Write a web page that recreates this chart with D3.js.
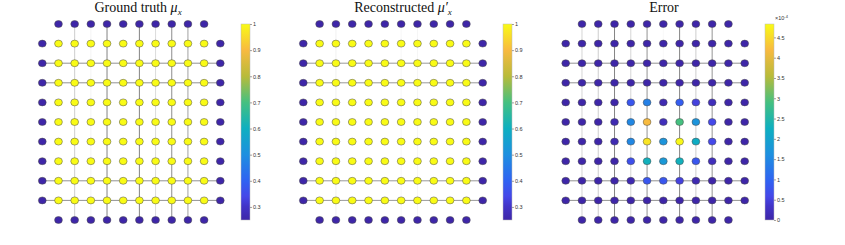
<html>
<head>
<script src="https://d3js.org/d3.v7.min.js"></script>
<style>
body { margin: 0; background: #fff; }
svg { display: block; }
</style>
</head>
<body>
<svg width="845" height="245"></svg>
<script>
// node values, 11 rows x 12 columns, corners have no node (null)
var B = 0.25;
var truthMu = [
  [null,B,B,B,B,B,B,B,B,B,B,null],
  [B,1,1,1,1,1,1,1,1,1,1,B],
  [B,1,1,1,1,1,1,1,1,1,1,B],
  [B,1,1,1,1,1,1,1,1,1,1,B],
  [B,1,1,1,1,1,1,1,1,1,1,B],
  [B,1,1,1,1,1,1,1,1,1,1,B],
  [B,1,1,1,1,1,1,1,1,1,1,B],
  [B,1,1,1,1,1,1,1,1,1,1,B],
  [B,1,1,1,1,1,1,1,1,1,1,B],
  [B,1,1,1,1,1,1,1,1,1,1,B],
  [null,B,B,B,B,B,B,B,B,B,B,null]
];
var reconMu = [
  [null,B,B,B,B,B,B,B,B,B,B,null],
  [B,1,1,1,1,1,1,1,1,1,1,B],
  [B,1,1,1,1,1,1,1,1,1,1,B],
  [B,1,1,1,1,1,1,1,1,1,1,B],
  [B,1,1,1,1,1,1,1,1,1,1,B],
  [B,1,1,1,1,1,1,1,1,1,1,B],
  [B,1,1,1,1,1,1,1,1,1,1,B],
  [B,1,1,1,1,1,1,1,1,1,1,B],
  [B,1,1,1,1,1,1,1,1,1,1,B],
  [B,1,1,1,1,1,1,1,1,1,1,B],
  [null,B,B,B,B,B,B,B,B,B,B,null]
];
// error in units of 1e-4
var errMu = [
  [null,0,0,0,0,0,0,0,0,0,0,null],
  [0,0,0,0,0,0,0,0,0,0,0,0],
  [0,0,0,0,0,0,0,0,0,0,0,0],
  [0,0,0,0,0,0,0,0,0,0,0,0],
  [0,0,0,0,0.8,1.4,0.1,0.9,0.5,0.2,0,0],
  [0,0,0,0.1,1.5,4.2,0.2,2.9,1.7,0.6,0,0],
  [0,0,0,0.1,1.5,4.6,1.7,4.8,2.2,0.6,0,0],
  [0,0,0,0,0.7,2.3,1.8,2.3,0.8,0.2,0,0],
  [0,0,0,0,0.1,0.8,0.8,0.5,0.1,0,0,0],
  [0,0,0,0,0,0,0,0,0,0,0,0],
  [null,0,0,0,0,0,0,0,0,0,0,null]
];

// edge weights (drawn in gray): horizontal rows, vertical columns
var truthRows = [[2,0.75],[3,0.75],[8,0.75],[9,0.75]];
var truthCols = [[2,0.35],[3,0.08],[4,0.85],[6,0.85],[7,0.25],[8,0.8],[9,0.65]];
var reconRows = [[2,0.7],[3,0.7],[8,0.7],[9,0.7]];
var reconCols = [[2,0.09],[6,0.06],[7,0.06]];
var errRows = [[2,0.75],[3,0.75],[8,0.75],[9,0.75]];
var errCols = [[1,0.3],[2,0.35],[3,0.85],[4,0.3],[5,0.75],[6,0.05],[7,0.85],[8,0.35],[9,0.75]];

var muTicks = [0.3,0.4,0.5,0.6,0.7,0.8,0.9,1];
var errTicks = [0,0.5,1,1.5,2,2.5,3,3.5,4,4.5];

// parula-like colour stops
var parulaPos = [0, 0.07, 0.12, 0.2, 0.333, 0.467, 0.6, 0.733, 0.867, 1];
var parulaCol = ["#3e26a8","#4234c8","#4547e8","#3062f2","#1e8fe0","#0eafc0","#45c080","#b8bb3a","#f8ba40","#f9fb15"];
function parulaScale(lo, hi) {
  return d3.scaleLinear().domain(parulaPos.map(function(p){ return lo + (hi-lo)*p; }))
    .range(parulaCol).interpolate(d3.interpolateRgb).clamp(true);
}
var gray = d3.scaleLinear().domain([0,1]).range(["#ffffff","#4a4a4a"]);

var svg = d3.select("svg");
var defs = svg.append("defs");

function drawPanel(opt) {
  var x = d3.scaleLinear().domain([0,11]).range([opt.x0, opt.x1]);
  var y = d3.scaleLinear().domain([0,10]).range([24, 220]);
  var col = parulaScale(opt.lo, opt.hi);
  var g = svg.append("g");

  g.selectAll("line.h").data(opt.rows).enter().append("line")
    .attr("x1", x(0)).attr("x2", x(11))
    .attr("y1", function(d){ return y(d[0]); }).attr("y2", function(d){ return y(d[0]); })
    .attr("stroke", function(d){ return gray(d[1]); }).attr("stroke-width", 0.8);
  g.selectAll("line.v").data(opt.cols).enter().append("line")
    .attr("y1", y(0)).attr("y2", y(10))
    .attr("x1", function(d){ return x(d[0]); }).attr("x2", function(d){ return x(d[0]); })
    .attr("stroke", function(d){ return gray(d[1]); }).attr("stroke-width", 0.8);

  var nodes = [];
  opt.data.forEach(function(row, r) {
    row.forEach(function(v, c) { if (v !== null) nodes.push({r: r, c: c, v: v}); });
  });
  g.selectAll("ellipse").data(nodes).enter().append("ellipse")
    .attr("cx", function(d){ return x(d.c); })
    .attr("cy", function(d){ return y(d.r); })
    .attr("rx", 3.9).attr("ry", 3.5)
    .attr("fill", function(d){ return col(d.v); })
    .attr("stroke", "#4a4a4a").attr("stroke-width", 0.5);

  // title
  var t = svg.append("text").attr("x", opt.tx).attr("y", 12)
    .attr("text-anchor", "middle")
    .style("font-family", "'Liberation Serif', serif").style("font-size", "14px").style("fill", "#111");
  t.append("tspan").text(opt.title);
  if (opt.mu) {
    t.append("tspan").text(" \u03bc" + (opt.prime ? "\u2032" : "")).style("font-style", "italic");
    t.append("tspan").text("x").attr("dy", 3).style("font-size", "9px").style("font-style", "italic");
  }

  // colorbar
  var cy = d3.scaleLinear().domain([opt.lo, opt.hi]).range([220, 24]);
  var id = "grad" + opt.key;
  var grad = defs.append("linearGradient").attr("id", id)
    .attr("x1", 0).attr("y1", 1).attr("x2", 0).attr("y2", 0);
  parulaPos.forEach(function(p, i) {
    grad.append("stop").attr("offset", p).attr("stop-color", parulaCol[i]);
  });
  svg.append("rect").attr("x", opt.cbx).attr("y", cy(opt.hi)).attr("width", 9)
    .attr("height", cy(opt.lo) - cy(opt.hi)).attr("fill", "url(#" + id + ")")
    .attr("stroke", "#bbb").attr("stroke-width", 0.5);
  var ax = d3.axisRight(cy).tickValues(opt.ticks).tickSize(2).tickPadding(1)
    .tickFormat(function(d){ return d3.format("~g")(d); });
  var ag = svg.append("g").attr("transform", "translate(" + (opt.cbx + 9) + ",0)").call(ax);
  ag.select(".domain").remove();
  ag.selectAll(".tick line").attr("stroke", "#444").attr("stroke-width", 0.5);
  ag.selectAll("text").style("font-family", "'Liberation Sans', sans-serif").style("font-size", "5.5px").style("fill", "#333");
  if (opt.exp) {
    var e = svg.append("text").attr("x", opt.cbx + 10).attr("y", 20)
      .style("font-family", "'Liberation Sans', sans-serif").style("font-size", "5.5px").style("fill", "#333");
    e.append("tspan").text("\u00d710");
    e.append("tspan").text("-4").attr("dy", -2).style("font-size", "4px");
  }
}

drawPanel({key: 1, data: truthMu, rows: truthRows, cols: truthCols, x0: 42.3, x1: 220.3, lo: 0.25, hi: 1,
  title: "Ground truth", mu: true, tx: 138, cbx: 241, ticks: muTicks});
drawPanel({key: 2, data: reconMu, rows: reconRows, cols: reconCols, x0: 303.3, x1: 482.7, lo: 0.25, hi: 1,
  title: "Reconstructed", mu: true, prime: true, tx: 403, cbx: 503, ticks: muTicks});
drawPanel({key: 3, data: errMu, rows: errRows, cols: errCols, x0: 565.7, x1: 744.7, lo: 0, hi: 4.83,
  title: "Error", mu: false, tx: 664, cbx: 765, ticks: errTicks, exp: true});
</script>
</body>
</html>
